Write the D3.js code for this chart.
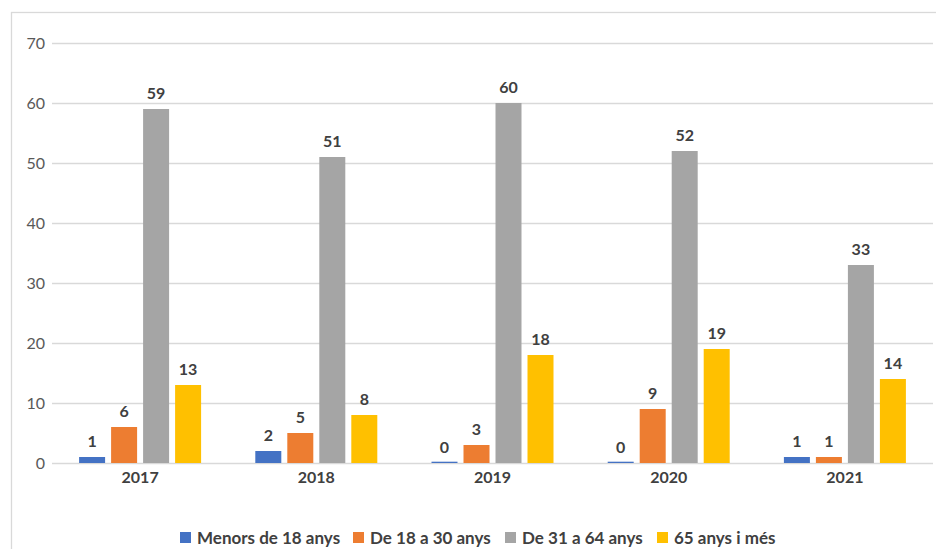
<!DOCTYPE html>
<html>
<head>
<meta charset="utf-8">
<script src="https://cdn.jsdelivr.net/npm/d3@7"></script>
<style>
  html, body { margin: 0; padding: 0; background: #fff; }
  svg { display: block; }
  text { font-family: Lato, "Open Sans", sans-serif; }
</style>
</head>
<body>
<svg id="chart" width="936" height="549"></svg>
<script>
const years = ["2017", "2018", "2019", "2020", "2021"];
const seriesNames = ["Menors de 18 anys", "De 18 a 30 anys", "De 31 a 64 anys", "65 anys i més"];
const menors18 = [1, 2, 0, 0, 1];
const de18a30 = [6, 5, 3, 9, 1];
const de31a64 = [59, 51, 60, 52, 33];
const anys65 = [13, 8, 18, 19, 14];
const yTicks = [0, 10, 20, 30, 40, 50, 60, 70];
const colors = ["#4472C4", "#ED7D31", "#A5A5A5", "#FFC000"];

const seriesValues = [menors18, de18a30, de31a64, anys65];

const svg = d3.select("#chart");

// outer border
svg.append("rect")
  .attr("x", 11.5).attr("y", 12.5)
  .attr("width", 1000).attr("height", 1000)
  .attr("fill", "none").attr("stroke", "#D9D9D9").attr("stroke-width", 1.3);

const plotLeft = 52, plotRight = 933;
const y = d3.scaleLinear().domain([0, 70]).range([463, 43]);
const x0 = d3.scaleBand().domain(years).range([plotLeft, plotRight]).paddingInner(0).paddingOuter(0);
const bw = x0.bandwidth();
const groupW = 122;
const x1 = d3.scaleBand().domain(d3.range(seriesNames.length))
  .range([(bw - groupW) / 2, (bw + groupW) / 2]).paddingInner(0.1875).paddingOuter(0);

// gridlines
const yAxis = d3.axisLeft(y).tickValues(yTicks).tickSize(-(plotRight - plotLeft)).tickPadding(7);
const gy = svg.append("g").attr("transform", `translate(${plotLeft},0)`).call(yAxis);
gy.select(".domain").remove();
gy.selectAll(".tick line").attr("stroke", "#D9D9D9").attr("stroke-width", 1.3);
gy.selectAll(".tick text").attr("fill", "#595959").style("font-size", "16px").style("font-family", "Lato, sans-serif");

// bars
const groups = svg.append("g").selectAll("g")
  .data(years).join("g")
  .attr("transform", d => `translate(${x0(d)},0)`);

groups.each(function(year, i) {
  const g = d3.select(this);
  seriesValues.forEach((vals, s) => {
    const v = vals[i];
    const h = Math.max(1.3, y(0) - y(v));
    g.append("rect")
      .attr("x", x1(s)).attr("width", x1.bandwidth())
      .attr("y", y(0) - h).attr("height", h)
      .attr("fill", colors[s]);
    g.append("text")
      .attr("x", x1(s) + x1.bandwidth() / 2)
      .attr("y", y(v) - 10)
      .attr("text-anchor", "middle")
      .attr("fill", "#404040")
      .style("font-size", "16px").style("font-weight", "bold")
      .text(v);
  });
});

// x axis labels
const xAxis = d3.axisBottom(x0).tickSize(0).tickPadding(0);
const gx = svg.append("g").attr("transform", `translate(0,463)`).call(xAxis);
gx.select(".domain").remove();
gx.selectAll(".tick text")
  .attr("y", 20).attr("dy", null)
  .attr("fill", "#404040")
  .style("font-size", "16px").style("font-weight", "bold").style("font-family", "Lato, sans-serif");

// legend
const legend = svg.append("g");
const legX = [180, 353, 505, 657];
seriesNames.forEach((name, s) => {
  legend.append("rect").attr("x", legX[s]).attr("y", 532).attr("width", 11).attr("height", 11).attr("fill", colors[s]);
  legend.append("text").attr("x", legX[s] + 17).attr("y", 544)
    .attr("fill", "#404040").style("font-size", "17px").style("font-weight", "bold")
    .text(name);
});
</script>
</body>
</html>
